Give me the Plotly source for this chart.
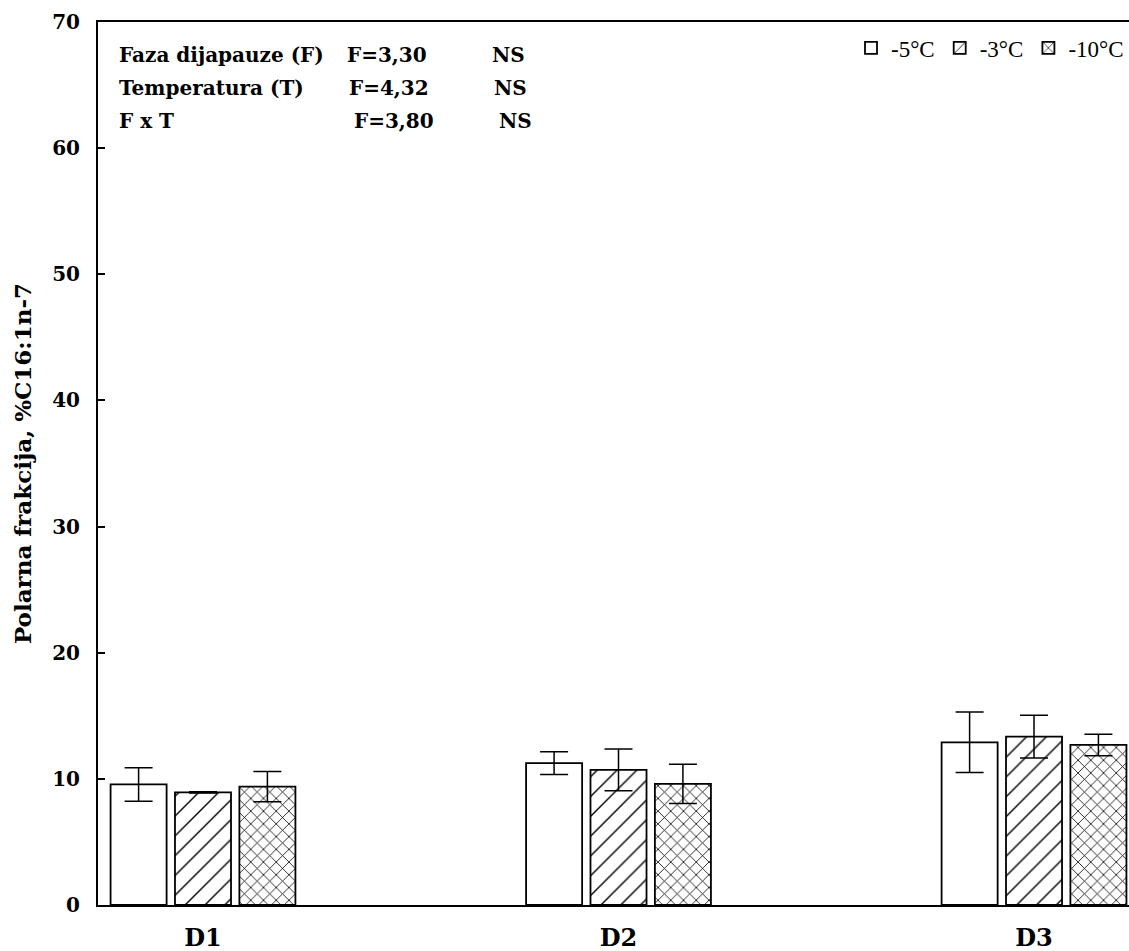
import plotly.graph_objects as go

categories = ["D1", "D2", "D3"]
series_names = ["-5°C", "-3°C", "-10°C"]
values_m5 = [9.56, 11.24, 12.9]
values_m3 = [8.93, 10.71, 13.35]
values_m10 = [9.38, 9.6, 12.69]
err_m5 = [1.33, 0.9, 2.4]
err_m3 = [0.05, 1.65, 1.7]
err_m10 = [1.2, 1.55, 0.85]

stats_labels = ["Faza dijapauze (F)", "Temperatura (T)", "F x T"]
stats_F = ["F=3,30", "F=4,32", "F=3,80"]
stats_sig = ["NS", "NS", "NS"]

SERIF = "DejaVu Serif"
TIMES = "Liberation Serif"
patterns = ["", "/", "x"]
psizes = [8, 14, 9]
psol = [0.1, 0.1, 0.17]

fig = go.Figure()
for name, vals, errs, pat, ps, so in zip(series_names, [values_m5, values_m3, values_m10],
                                        [err_m5, err_m3, err_m10], patterns, psizes, psol):
    fig.add_trace(go.Bar(
        x=categories, y=vals, name=name,
        marker=dict(color="white", line=dict(color="black", width=1.8),
                    pattern=dict(shape=pat, fgcolor="black", bgcolor="white", fgopacity=1,
                                 size=ps, solidity=so, fillmode="overlay")),
        error_y=dict(type="data", array=errs, visible=True, color="black",
                     thickness=1.5, width=14),
    ))

W, H = 1129, 951
L, R, T, B = 98, 0, 22, 46
pw, ph = W - L - R, H - T - B

def px(xp):
    return (xp - L) / pw

def py(yp):
    return (H - B - yp) / ph

rows_y = [55, 88, 121]
col2_x = [345, 347, 352]
col3_x = [490, 492, 497]
for i in range(3):
    for txt, xp in [(stats_labels[i], 117), (stats_F[i], col2_x[i]), (stats_sig[i], col3_x[i])]:
        fig.add_annotation(x=px(xp), y=py(rows_y[i]), xref="paper", yref="paper",
                           text="<b>" + txt + "</b>", showarrow=False,
                           xanchor="left", yanchor="middle",
                           font=dict(family=SERIF, size=20, color="black"))

fig.update_layout(
    width=W, height=H,
    margin=dict(l=L, r=R, t=T, b=B),
    paper_bgcolor="white", plot_bgcolor="white",
    barmode="group", bargap=0.535, bargroupgap=0.13,
    font=dict(family=SERIF, color="black", size=20),
    legend=dict(orientation="h", x=1, xanchor="right", y=0.995, yanchor="top",
                font=dict(family=TIMES, size=23, color="black"),
                bgcolor="rgba(0,0,0,0)", traceorder="normal"),
    xaxis=dict(range=[-0.2527, 2.2286], showline=True, linecolor="black", linewidth=2,
               mirror=True, ticks="", showgrid=False,
               tickfont=dict(family=SERIF, size=24, color="black"),
               ticklabelstandoff=10,
               tickprefix="<b>", ticksuffix="</b>"),
    yaxis=dict(range=[0, 70], dtick=10, showline=True, linecolor="black", linewidth=2,
               ticks="inside", ticklen=7, tickwidth=1.5, tickcolor="black",
               showgrid=False, zeroline=False,
               tickfont=dict(family=SERIF, size=20, color="black"),
               ticklabelstandoff=12,
               tickprefix="<b>", ticksuffix="</b>",
               title=dict(text="<b>Polarna frakcija, %C16:1n-7</b>",
                          font=dict(family=SERIF, size=23, color="black"),
                          standoff=14)),
)

fig.write_html("out.html")
